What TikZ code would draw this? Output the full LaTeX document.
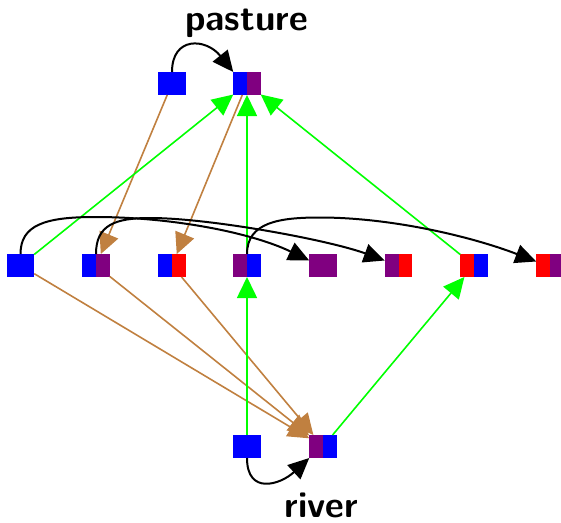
\documentclass[tikz,border=0pt]{standalone}
\usepackage{fontspec}
\usetikzlibrary{arrows.meta}
\definecolor{cblue}{RGB}{0,0,255}
\definecolor{cpurple}{RGB}{128,0,128}
\definecolor{cred}{RGB}{255,0,0}
\definecolor{cgreen}{RGB}{0,255,0}
\definecolor{cbrown}{RGB}{192,128,64}
\begin{document}
\begin{tikzpicture}[x=1pt,y=-1pt,
  sq/.style={minimum width=27.5pt,minimum height=23pt,inner sep=0pt,outer sep=0pt,fill=#1},
  sqtwo/.style 2 args={minimum width=27.5pt,minimum height=23pt,inner sep=0pt,outer sep=0pt,fill=#1,
    path picture={\fill[#2] (path picture bounding box.south) rectangle (path picture bounding box.north east);}},
  blk/.style={draw=black,line width=2pt,-{Triangle[length=21pt,width=19pt]}},
  brn/.style={draw=cbrown,line width=1.6pt,-{Triangle[length=21pt,width=20pt]}},
  grn/.style={draw=cgreen,line width=1.6pt,-{Triangle[length=21pt,width=20pt]}},
  lbl/.style={font=\sffamily\bfseries\fontsize{36.5}{40}\selectfont,inner sep=0pt,anchor=base}
]
\useasboundingbox (0,0) rectangle (561,522);
% nodes
\node[sq=cblue] (pA) at (172,83.5) {};
\node[sqtwo={cblue}{cpurple}] (pB) at (247,83.5) {};
\node[sq=cblue] (m1) at (20.5,265.5) {};
\node[sqtwo={cblue}{cpurple}] (m2) at (96,265.5) {};
\node[sqtwo={cblue}{cred}] (m3) at (172,265.5) {};
\node[sqtwo={cpurple}{cblue}] (m4) at (247,265.5) {};
\node[sq=cpurple] (m5) at (323,265.5) {};
\node[sqtwo={cpurple}{cred}] (m6) at (398.5,265.5) {};
\node[sqtwo={cred}{cblue}] (m7) at (474,265.5) {};
\node[sqtwo={cred}{cpurple}] (m8) at (550,265.5) {};
\node[sq=cblue] (r1) at (247,446.5) {};
\node[sqtwo={cpurple}{cblue}] (r2) at (323,446.5) {};
\node[lbl] (lp) at (246.5,30) {pasture};
\node[lbl] (lr) at (321.5,517.5) {river};
% brown edges
\draw[brn] (pA) -- (m2);
\draw[brn] (pB) -- (m3);
\draw[brn] (m1) -- (r2);
\draw[brn] (m2) -- (r2);
\draw[brn] (m3) -- (r2);
% green edges
\draw[grn] (m1) -- (pB);
\draw[grn] (m4) -- (pB);
\draw[grn] (m7) -- (pB);
\draw[grn] (r1) -- (m4);
\draw[grn] (r2) -- (m7);
% black curved edges
\draw[blk] (pA.north) .. controls (172,36) and (206,38) .. (pB.north west);
\draw[blk] (m1.north) .. controls (20.5,225) and (45,217) .. (95,217) .. controls (170,217) and (250,232) .. ([yshift=5pt]m5.west);
\draw[blk] (m2.north) .. controls (96,225) and (115,218) .. (150,218) .. controls (210,218) and (328.6,240) .. ([yshift=5pt]m6.west);
\draw[blk] (m4.north) .. controls (247,222) and (280,217.5) .. (320,217.5) .. controls (390,217.5) and (470,236) .. ([yshift=4pt]m8.west);
\draw[blk] (r1.south) .. controls (247,495) and (280,485) .. (r2.south west);
\end{tikzpicture}
\end{document}
